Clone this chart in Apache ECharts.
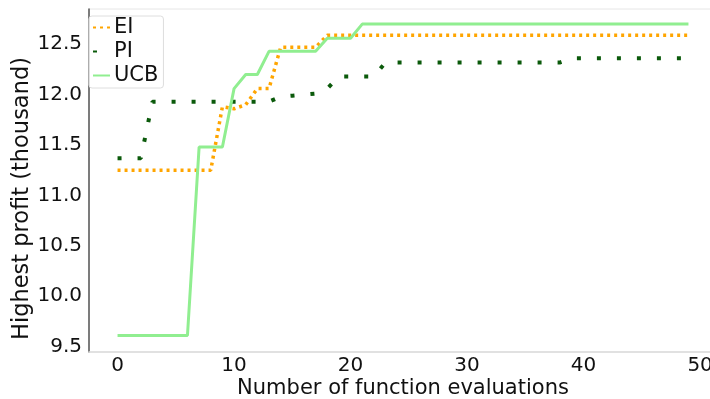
<!DOCTYPE html>
<html>
<head>
<meta charset="utf-8">
<script src="https://cdn.jsdelivr.net/npm/echarts@6/dist/echarts.min.js"></script>
<style>
  html, body { margin: 0; padding: 0; background: #fff; }
  #chart { width: 710px; height: 399px; }
</style>
</head>
<body>
<div id="chart"></div>
<script>
// number of function evaluations (x)
const evals = [0, 1, 2, 3, 4, 5, 6, 7, 8, 9, 10, 11, 12, 13, 14, 15, 16, 17, 18, 19,
  20, 21, 22, 23, 24, 25, 26, 27, 28, 29, 30, 31, 32, 33, 34, 35, 36, 37, 38, 39,
  40, 41, 42, 43, 44, 45, 46, 47, 48, 49];

// highest profit so far (thousand)
const eiVals = [11.25, 11.25, 11.25, 11.25, 11.25, 11.25, 11.25, 11.25, 11.25, 11.88,
  11.86, 11.9, 12.06, 12.06, 12.47, 12.47, 12.47, 12.47, 12.59, 12.59,
  12.59, 12.59, 12.59, 12.59, 12.59, 12.59, 12.59, 12.59, 12.59, 12.59,
  12.59, 12.59, 12.59, 12.59, 12.59, 12.59, 12.59, 12.59, 12.59, 12.59,
  12.59, 12.59, 12.59, 12.59, 12.59, 12.59, 12.59, 12.59, 12.59, 12.59];
const piVals = [11.37, 11.37, 11.37, 11.93, 11.93, 11.93, 11.93, 11.93, 11.93, 11.93,
  11.93, 11.93, 11.93, 11.93, 11.98, 11.99, 12.0, 12.01, 12.06, 12.18,
  12.18, 12.18, 12.18, 12.32, 12.32, 12.32, 12.32, 12.32, 12.32, 12.32,
  12.32, 12.32, 12.32, 12.32, 12.32, 12.32, 12.32, 12.32, 12.32, 12.36,
  12.36, 12.36, 12.36, 12.36, 12.36, 12.36, 12.36, 12.36, 12.36, 12.36];
const ucbVals = [9.61, 9.61, 9.61, 9.61, 9.61, 9.61, 9.61, 11.48, 11.48, 11.48,
  12.06, 12.2, 12.2, 12.43, 12.43, 12.43, 12.43, 12.43, 12.56, 12.56,
  12.56, 12.7, 12.7, 12.7, 12.7, 12.7, 12.7, 12.7, 12.7, 12.7,
  12.7, 12.7, 12.7, 12.7, 12.7, 12.7, 12.7, 12.7, 12.7, 12.7,
  12.7, 12.7, 12.7, 12.7, 12.7, 12.7, 12.7, 12.7, 12.7, 12.7];

const seriesNames = ['EI', 'PI', 'UCB'];
const pairs = ys => evals.map((x, i) => [x, ys[i]]);
const font = 'DejaVu Sans';

// only label the "nice" ticks, not the padded min/max
const onStep = step => v => {
  const k = v / step;
  return Math.abs(k - Math.round(k)) < 1e-6 ? (step < 1 ? v.toFixed(1) : String(Math.round(v))) : '';
};

const chart = echarts.init(document.getElementById('chart'), null, { renderer: 'canvas' });
chart.setOption({
  animation: false,
  backgroundColor: '#fff',
  grid: {
    left: 89, top: 9, width: 628, height: 343,
    outerBoundsMode: 'none',
    show: true, borderColor: '#e6e6e6', borderWidth: 1
  },
  legend: {
    orient: 'vertical',
    left: 89, top: 16,
    padding: [1, 5, 2, 3],
    itemWidth: 17, itemHeight: 12, itemGap: 3,
    borderColor: '#dedede', borderWidth: 1, borderRadius: 3,
    backgroundColor: 'rgba(255,255,255,0.8)',
    itemStyle: { opacity: 0 },
    textStyle: { fontFamily: font, fontSize: 21, color: '#111', padding: [0, 0, 0, -1] },
    data: seriesNames
  },
  xAxis: {
    type: 'value',
    min: -2.45, max: 51.45, splitNumber: 5,
    name: 'Number of function evaluations',
    nameLocation: 'middle', nameGap: 26, nameMoveOverlap: false,
    nameTextStyle: { fontFamily: font, fontSize: 21, color: '#111' },
    axisLine: { onZero: false, lineStyle: { color: '#dcdcdc', width: 1.5 } },
    axisTick: { show: false },
    splitLine: { show: false },
    axisLabel: { fontFamily: font, fontSize: 20, color: '#111', margin: 4, formatter: onStep(10) }
  },
  yAxis: {
    type: 'value',
    min: 9.446, max: 12.85, splitNumber: 7,
    name: 'Highest profit (thousand)',
    nameLocation: 'middle', nameGap: 55, nameRotate: 90, nameMoveOverlap: false,
    nameTextStyle: { fontFamily: font, fontSize: 22.5, color: '#111', padding: [0, 36, 0, 0] },
    axisLine: { show: true, onZero: false, lineStyle: { color: '#555', width: 1.5 } },
    axisTick: { show: false },
    splitLine: { show: false },
    axisLabel: { fontFamily: font, fontSize: 20, color: '#111', margin: 7, padding: [3, 0, 0, 0], formatter: onStep(0.5) }
  },
  series: [
    {
      name: 'EI', type: 'line', data: pairs(eiVals),
      symbol: 'none', color: '#FFA500',
      lineStyle: { width: 3.5, type: [3, 4], cap: 'butt' }
    },
    {
      name: 'PI', type: 'line', data: pairs(piVals),
      symbol: 'none', color: '#0b5a0b',
      lineStyle: { width: 4, type: [4, 16], cap: 'butt' }
    },
    {
      name: 'UCB', type: 'line', data: pairs(ucbVals),
      symbol: 'none', color: '#90EE90',
      lineStyle: { width: 3 }
    }
  ]
});
</script>
</body>
</html>
